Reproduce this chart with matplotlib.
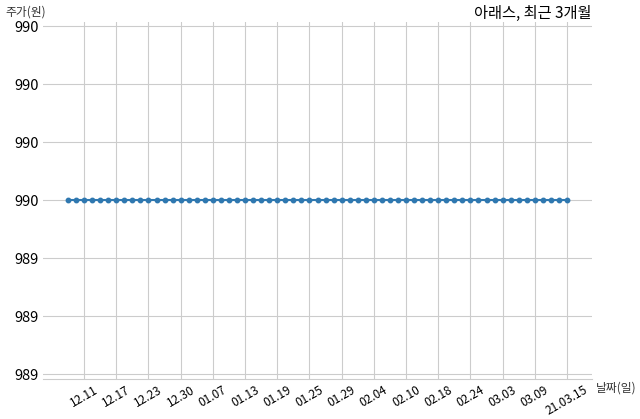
import matplotlib
matplotlib.use('Agg')
import matplotlib.pyplot as plt
from matplotlib.ticker import FuncFormatter

plt.rcParams['font.family'] = ['Noto Sans CJK KR', 'DejaVu Sans']

# trading days, 2020.12.09 ~ 2021.03.15
dates = ['12.09', '12.10', '12.11', '12.14', '12.15', '12.16', '12.17', '12.18',
         '12.21', '12.22', '12.23', '12.24', '12.28', '12.29', '12.30',
         '01.04', '01.05', '01.06', '01.07', '01.08', '01.11', '01.12', '01.13',
         '01.14', '01.15', '01.18', '01.19', '01.20', '01.21', '01.22', '01.25',
         '01.26', '01.27', '01.28', '01.29',
         '02.01', '02.02', '02.03', '02.04', '02.05', '02.08', '02.09', '02.10',
         '02.15', '02.16', '02.17', '02.18', '02.19', '02.22', '02.23', '02.24',
         '02.25', '02.26',
         '03.02', '03.03', '03.04', '03.05', '03.08', '03.09', '03.10', '03.11',
         '03.12', '21.03.15']
prices = [990] * len(dates)

y_ticks = [989.4, 989.6, 989.8, 990.0, 990.2, 990.4, 990.6]

fig = plt.figure(figsize=(6.4, 4.19), dpi=100)
ax = fig.add_axes([43 / 640, 40 / 419, 549 / 640, 357 / 419])

x = list(range(len(dates)))
ax.plot(x, prices, color='#2f78b0', marker='o', markersize=3.2, linewidth=1.5)

# label every 4th trading day, counted back from the last one
tick_idx = list(range(len(dates) - 1, -1, -4))[::-1]
ax.set_xticks(tick_idx)
ax.set_xticklabels([dates[i] for i in tick_idx], rotation=30, fontsize=8.5)

ax.set_ylim(989.383, 990.615)
ax.set_yticks(y_ticks)
ax.yaxis.set_major_formatter(FuncFormatter(lambda v, p: '%d' % int(v + 1e-9)))
ax.tick_params(axis='y', labelsize=10.5, length=0, pad=3)
ax.tick_params(axis='x', length=0, pad=3)

ax.grid(True, color='#cccccc', linewidth=0.8)
ax.set_axisbelow(True)
for s in ['top', 'right', 'left']:
    ax.spines[s].set_visible(False)
ax.spines['bottom'].set_color('#cccccc')

fig.text(5 / 640, 1 - 12 / 419, '주가(원)', fontsize=8.5, color='#333333', va='center')
fig.text(596 / 640, 1 - 388 / 419, '날짜(일)', fontsize=8.5, color='#333333', va='center')
fig.text(592 / 640, 1 - 13 / 419, '아래스, 최근 3개월', fontsize=11, ha='right', va='center')

fig.savefig('out.png', dpi=100)
